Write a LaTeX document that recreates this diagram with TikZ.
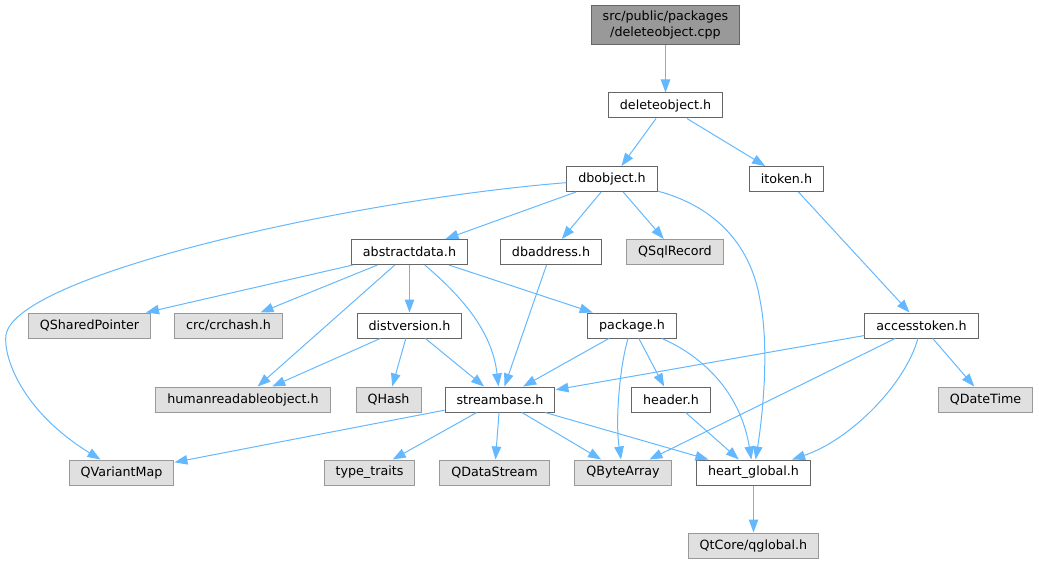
\documentclass[tikz,border=0pt]{standalone}
\usepackage{fontspec}
\setmainfont{DejaVu Sans}
\usetikzlibrary{arrows.meta}
\definecolor{edgeblue}{HTML}{63B8FF}
\definecolor{boxgray}{HTML}{666666}
\definecolor{sysgray}{HTML}{999999}
\definecolor{sysfill}{HTML}{E0E0E0}

\begin{document}
\begin{tikzpicture}[x=1pt,y=-1pt,
    font=\fontsize{12.7}{15.2}\selectfont,
    box/.style={draw=boxgray,fill=white,line width=1pt,inner xsep=11.5pt,inner ysep=0pt,minimum height=25pt},
    sysbox/.style={box,draw=sysgray,fill=sysfill},
    mainbox/.style={box,fill=sysgray,minimum height=39pt,align=center},
    dep/.style={draw=edgeblue,line width=1pt,-{Triangle[length=13pt,width=9.5pt]}}]
\useasboundingbox (0,0) rectangle (1039,564);

\node[mainbox] (cpp) at (665.5,25) {src/public/packages\\/deleteobject.cpp};
\node[box] (delobj) at (665.5,105.5) {deleteobject.h};
\node[box] (dbobj) at (612,179) {dbobject.h};
\node[box] (itok) at (786.5,179) {itoken.h};
\node[box] (absdata) at (409.5,252) {abstractdata.h};
\node[box] (dbaddr) at (551,252) {dbaddress.h};
\node[sysbox] (sqlrec) at (675,252) {QSqlRecord};
\node[sysbox] (shptr) at (89.5,325.5) {QSharedPointer};
\node[sysbox] (crc) at (228.5,325.5) {crc/crchash.h};
\node[box] (distv) at (409.5,325.5) {distversion.h};
\node[box] (pkg) at (632,325.5) {package.h};
\node[box] (acctok) at (921.5,325.5) {accesstoken.h};
\node[sysbox] (hro) at (243,399.5) {humanreadableobject.h};
\node[sysbox] (qhash) at (388.5,399.5) {QHash};
\node[box] (sbase) at (500,399.5) {streambase.h};
\node[box] (hdr) at (671,399.5) {header.h};
\node[sysbox] (qdt) at (985.5,399.5) {QDateTime};
\node[sysbox] (qvm) at (121.5,472.5) {QVariantMap};
\node[sysbox] (ttr) at (369.5,472.5) {type\_traits};
\node[sysbox] (qds) at (494.5,472.5) {QDataStream};
\node[sysbox] (qba) at (623,472.5) {QByteArray};
\node[box] (hglob) at (753.5,472.5) {heart\_global.h};
\node[sysbox] (qglob) at (753.5,545.5) {QtCore/qglobal.h};

% straight dependencies
\foreach \a/\b in {cpp/delobj, delobj/dbobj, delobj/itok, dbobj/absdata, dbobj/dbaddr,
    dbobj/sqlrec, itok/acctok, absdata/shptr, absdata/crc, absdata/hro, absdata/distv,
    absdata/pkg, dbaddr/sbase, distv/hro, distv/qhash, distv/sbase, pkg/sbase, pkg/hdr,
    acctok/sbase, acctok/qba, acctok/qdt, sbase/qvm, sbase/ttr, sbase/qds, sbase/qba,
    sbase/hglob, hdr/hglob, hglob/qglob}
  \path[dep] (\a) -- (\b);

% curved dependencies
\path[dep] (dbobj) .. controls (350,200) and (15,275) .. (6,335)
  .. controls (3,355) and (20,410) .. (qvm);
\path[dep] (dbobj) .. controls (710,205) and (750,240) .. (760,300)
  .. controls (770,350) and (762,420) .. (hglob);
\path[dep] (absdata) .. controls (460,295) and (492,330) .. (sbase);
\path[dep] (pkg) .. controls (620,365) and (615,420) .. (qba);
\path[dep] (pkg) .. controls (700,355) and (740,390) .. (hglob);
\path[dep] (acctok) .. controls (905,385) and (850,440) .. (hglob);
\end{tikzpicture}
\end{document}
